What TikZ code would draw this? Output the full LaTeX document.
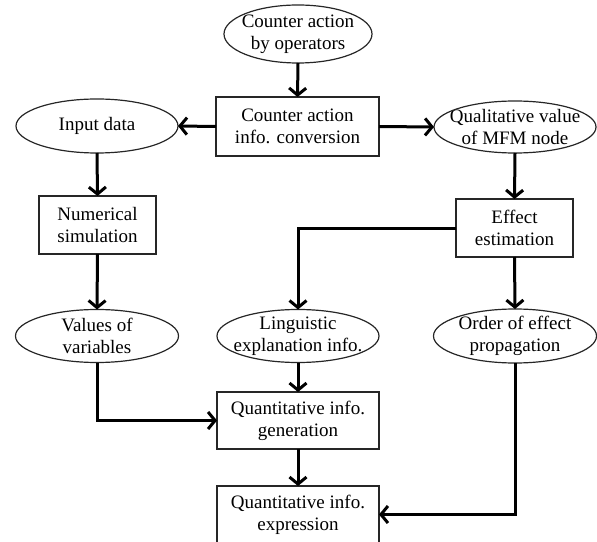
\documentclass[tikz,border=0pt]{standalone}
\usepackage{fontspec}
\setmainfont{Liberation Serif}
\usetikzlibrary{arrows.meta,calc}
\begin{document}
\begin{tikzpicture}[x=1bp,y=-1bp,
  every node/.style={font=\fontsize{19bp}{22bp}\selectfont, align=center, inner sep=0pt, outer sep=0pt},
  procbox/.style={draw=black!85, line width=1.2bp, fill=white},
  oval/.style={},
  flow/.style={line width=3bp, -{Straight Barb[length=7bp,width=17bp]}}]
\useasboundingbox (0,0) rectangle (597,542);

% ovals are drawn below from their node anchors
\node[oval, minimum width=148bp, minimum height=58bp] (cab) at (298,34) {Counter action\\by operators};
\node[procbox, minimum width=163bp, minimum height=59bp] (cac) at (297.5,126.5) {Counter action\\info. conversion};
\node[oval, minimum width=162bp, minimum height=54bp] (in) at (97,126) {Input data};
\node[procbox, minimum width=117bp, minimum height=58bp] (num) at (97.5,225) {Numerical\\simulation};
\node[oval, minimum width=162bp, minimum height=52bp] (qv) at (515,127) {Qualitative value\\of MFM node};
\node[procbox, minimum width=117bp, minimum height=58bp] (eff) at (514.5,228) {Effect\\estimation};
\node[oval, minimum width=163bp, minimum height=53bp] (vv) at (97,336) {Values of\\variables};
\node[oval, minimum width=162bp, minimum height=53bp] (le) at (298,336) {Linguistic\\explanation info.};
\node[oval, minimum width=163bp, minimum height=54bp] (oe) at (515,336) {Order of effect\\propagation};
\node[procbox, minimum width=162bp, minimum height=57bp] (gen) at (298,420.5) {Quantitative info.\\generation};
\node[procbox, minimum width=162bp, minimum height=57bp] (exp) at (298,514.5) {Quantitative info.\\expression};

% ellipse outlines sized by each oval node
\foreach \nd in {cab,in,qv,vv,le,oe}
  \draw[black!85, line width=1.2bp] let \p1=(\nd.east), \p2=(\nd.north), \p3=(\nd.center) in
    (\p3) ellipse [x radius={\x1-\x3}, y radius={\y2-\y3}];

% connectors
\draw[flow] (cab.south) -- (cac.north);
\draw[flow] (cac.west) -- (in.east);
\draw[flow] (cac.east) -- (qv.west);
\draw[flow] (in.south) -- (num.north);
\draw[flow] (num.south) -- (vv.north);
\draw[flow] (qv.south) -- (eff.north);
\draw[flow] (eff.south) -- (oe.north);
\draw[flow] (eff.west) -| (le.north);
\draw[flow] (le.south) -- (gen.north);
\draw[flow] (vv.south) |- (gen.west);
\draw[flow] (gen.south) -- (exp.north);
\draw[flow] (oe.south) |- (exp.east);
\end{tikzpicture}
\end{document}
